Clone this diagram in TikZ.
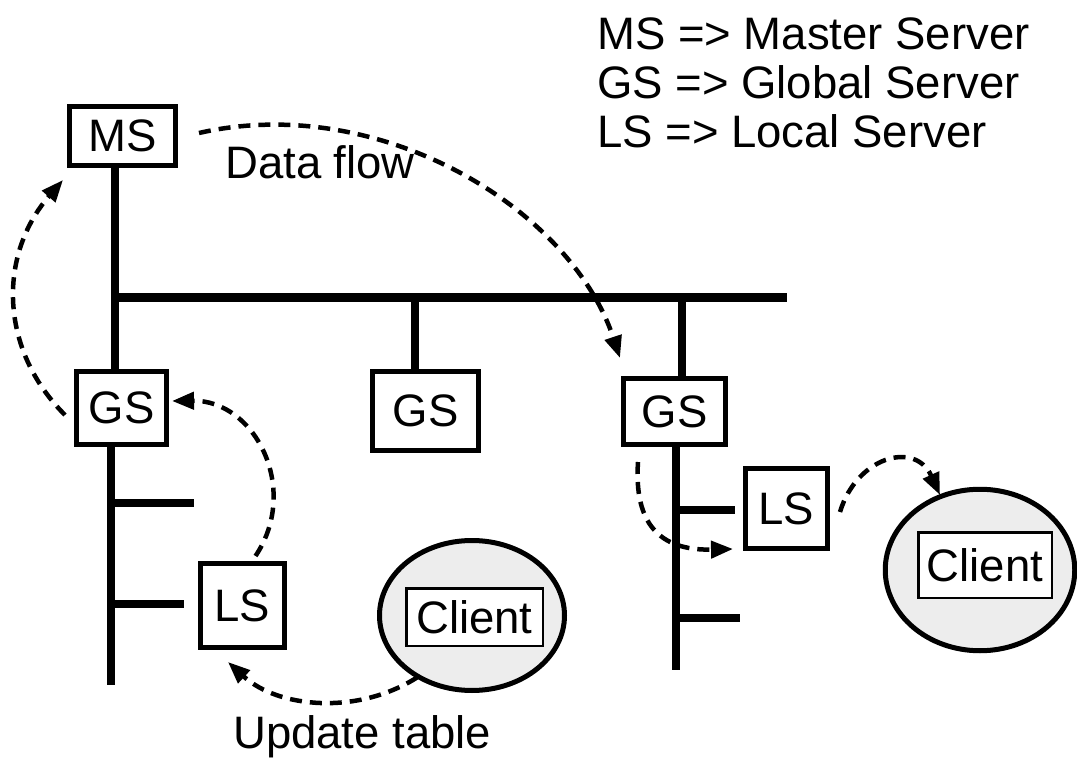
\documentclass[tikz,border=0pt]{standalone}
\usepackage{fontspec}
\setmainfont{Liberation Sans}
\usetikzlibrary{arrows.meta,shapes.geometric,calc,backgrounds}
\definecolor{clientfill}{gray}{0.93}
\begin{document}
\begin{tikzpicture}[x=1pt,y=-1pt,
  font=\fontsize{45.5}{54}\selectfont,
  server/.style={draw,line width=5pt,fill=white,inner sep=0pt,anchor=center},
  bus/.style={line width=8.5pt},
  flow/.style={line width=4.5pt,dash pattern=on 12pt off 8pt,
    -{Triangle[length=22pt,width=17pt]}},
  clientarea/.style={ellipse,draw,line width=5pt,fill=clientfill,inner sep=0pt},
  clientbox/.style={draw,line width=2.5pt,fill=white,inner sep=0pt},
  legend/.style={anchor=base west,inner sep=0pt}]
\useasboundingbox (0,0) rectangle (1077,759);

% servers
\node[server,minimum width=106pt,minimum height=59pt] (MS) at (122.5,136) {MS};
\node[server,minimum width=90pt,minimum height=73pt] (GS1) at (121.5,408) {GS};
\node[server,minimum width=106pt,minimum height=79pt] (GS2) at (425.5,411) {GS};
\node[server,minimum width=102pt,minimum height=66pt] (GS3) at (674.5,411.5) {GS};
\node[server,minimum width=84pt,minimum height=84pt] (LS1) at (242.5,605.5) {LS};
\node[server,minimum width=82pt,minimum height=80pt] (LS2) at (786.5,508.5) {LS};

% clients
\node[clientarea,minimum width=185pt,minimum height=150pt] (C1) at (472,615.5) {};
\node[clientbox,minimum width=136.5pt,minimum height=57.5pt] (C1box) at (474.5,617) {Client};
\node[clientarea,minimum width=189.5pt,minimum height=161.5pt] (C2) at (980,570) {};
\node[clientbox,minimum width=133.5pt,minimum height=65.5pt] (C2box) at (985,565) {Client};

% network backbone
\coordinate (busL) at (115,297.5);
\coordinate (busR) at (787,297.5);
\coordinate (stemM) at (415,297.5);
\coordinate (stemR) at (682,297.5);
\coordinate (tailL) at (111,685);
\coordinate (tailR) at (676,670);
\coordinate (brL1) at (194,503);
\coordinate (brL2) at (184,604);
\coordinate (brR1) at (735,510);
\coordinate (brR2) at (740,618);
\begin{scope}[on background layer]
  \draw[bus] (MS.south -| busL) -- (GS1.north -| busL);
  \draw[bus] (busL) -- (busR);
  \draw[bus] (stemM) -- (stemM |- GS2.north);
  \draw[bus] (stemR) -- (stemR |- GS3.north);
  \draw[bus] (GS1.south -| tailL) -- (tailL);
  \draw[bus] (GS3.south -| tailR) -- (tailR);
  \draw[bus] (brL1 -| tailL) -- (brL1);
  \draw[bus] (brL2 -| tailL) -- (brL2);
  \draw[bus] (brR1 -| tailR) -- (brR1);
  \draw[bus] (brR2 -| tailR) -- (brR2);
\end{scope}

% data flow
\draw[flow] ($(GS1.west)+(-9,7)$) .. controls +(-66,-66) and +(-65,75) .. ($(MS.south west)+(-4,12)$);
\draw[flow] ($(LS1.north)+(13,-5)$) .. controls +(45,-67) and +(83,-1) .. ($(GS1.east)+(3,-7)$);
\draw[flow] ($(C1.center)+(-55,62)$) .. controls +(-60,38) and +(50,46) .. ($(LS1.south)+(-14.5,12)$);
\draw[flow] ($(MS.east)+(21,-3)$) .. controls +(180,-41) and +(-49.5,-150) .. ($(GS3.north west)+(-1,-18)$);
\draw[flow] ($(GS3.south west)+(17,15)$) .. controls +(-4,60) and +(-75,2) .. ($(LS2.south west)+(-10,-2)$);
\draw[flow] ($(LS2.east)+(10,3.5)$) .. controls +(16.5,-55) and +(-25,-55) .. ($(C2.center)+(-40,-75)$);

% labels
\node[legend] (keyMS) at (597,50) {MS => Master Server};
\node[legend] (keyGS) at (597,99) {GS => Global Server};
\node[legend] (keyLS) at (597,148) {LS => Local Server};
\node[legend] (flowlabel) at (225,179) {Data flow};
\node[legend] (updatelabel) at (233,748) {Update table};
\end{tikzpicture}
\end{document}
